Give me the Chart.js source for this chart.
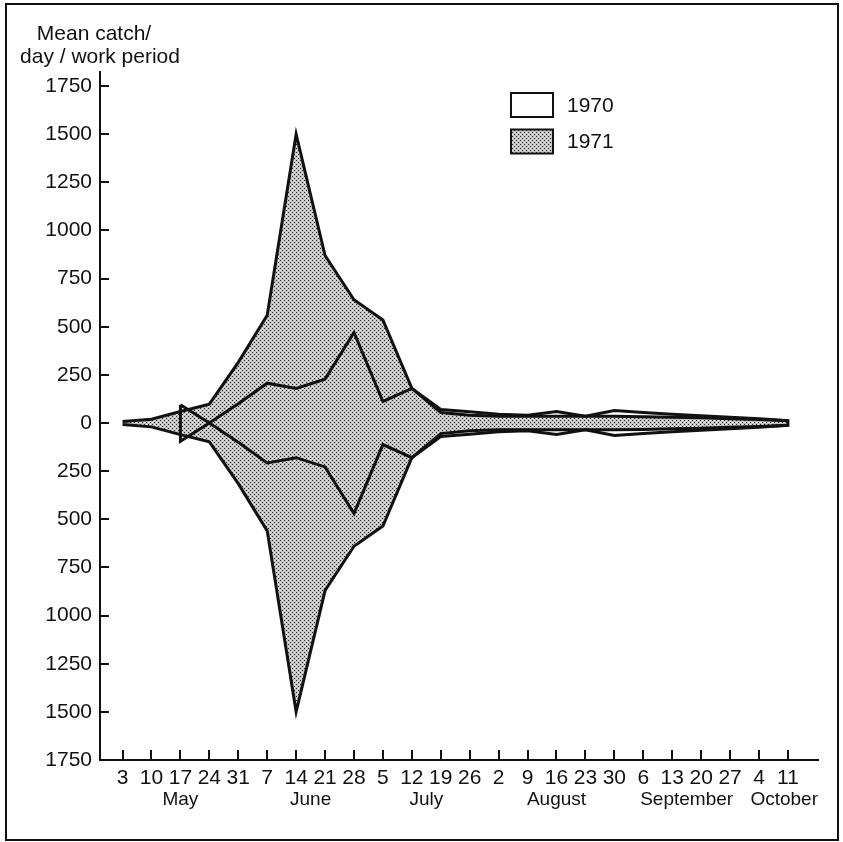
<!DOCTYPE html>
<html>
<head>
<meta charset="utf-8">
<script src="https://cdn.jsdelivr.net/npm/chart.js@4.4.1/dist/chart.umd.min.js"></script>
<style>
  html, body { margin: 0; padding: 0; background: #fff; }
</style>
</head>
<body>
<canvas id="kite" width="843" height="842"></canvas>
<script>
// sampling weeks (day of month) and the month each falls in
var weekLabels = ['3', '10', '17', '24', '31', '7', '14', '21', '28', '5', '12', '19', '26',
                  '2', '9', '16', '23', '30', '6', '13', '20', '27', '4', '11'];
var weekMonths = ['May', 'May', 'May', 'May', 'May', 'June', 'June', 'June', 'June',
                  'July', 'July', 'July', 'July', 'August', 'August', 'August', 'August', 'August',
                  'September', 'September', 'September', 'September', 'October', 'October'];

// mean catch / day / work period, one value per week
var catch1970 = [null, null, 95, 0, 100, 207, 180, 228, 470, 112, 180, 70,
                 58, 45, 40, 60, 35, 65, 55, 45, 38, 30, 22, 12];
var catch1971 = [8, 20, 60, 98, 315, 560, 1500, 870, 640, 535, 180, 55,
                 40, 35, 35, 35, 35, 35, 33, 30, 27, 22, 18, 12];

var yTicks = [-1750, -1500, -1250, -1000, -750, -500, -250, 0, 250, 500, 750, 1000, 1250, 1500, 1750];

var FONT = "'Liberation Sans', Arial, sans-serif";
var INK = '#111';

// fine dot screen used for the 1971 kite
function stipple() {
    var c = document.createElement('canvas');
    c.width = 4; c.height = 4;
    var g = c.getContext('2d');
    g.fillStyle = '#c2c2c2'; g.fillRect(0, 0, 4, 4);
    g.fillStyle = '#2a2a2a'; g.fillRect(0, 0, 1, 1); g.fillRect(2, 2, 1, 1);
    g.fillStyle = '#f0f0f0'; g.fillRect(2, 0, 1, 1); g.fillRect(0, 2, 1, 1);
    return g.createPattern(c, 'repeat');
}
var screen = stipple();

// one edge of a kite: +v above the axis, -v below
function side(values, sign) {
    var pts = [];
    values.forEach(function(v, i) {
        if (v !== null) pts.push({ x: i, y: sign * v });
    });
    return pts;
}

// closed kite outline: top edge left to right, bottom edge back again
function outline(values) {
    var top = side(values, 1), bottom = side(values, -1).reverse();
    return top.concat(bottom, [top[0]]);
}

var decor = {
    id: 'decor',
    beforeDraw: function(chart) {
        var ctx = chart.ctx;
        ctx.save();
        ctx.fillStyle = '#fff';
        ctx.fillRect(0, 0, chart.width, chart.height);
        ctx.restore();
    },
    afterDraw: function(chart) {
        var ctx = chart.ctx, a = chart.chartArea;
        var xs = chart.scales.x, ys = chart.scales.y;
        ctx.save();
        ctx.strokeStyle = INK;
        ctx.lineWidth = 2;

        // outer frame
        ctx.strokeRect(6, 4, 832, 836);

        // tick marks pointing into the plot
        ctx.beginPath();
        ys.ticks.forEach(function(t) {
            var y = Math.round(ys.getPixelForValue(t.value));
            ctx.moveTo(a.left, y); ctx.lineTo(a.left + 9, y);
        });
        xs.ticks.forEach(function(t) {
            var x = Math.round(xs.getPixelForValue(t.value));
            ctx.moveTo(x, a.bottom); ctx.lineTo(x, a.bottom - 10);
        });
        ctx.stroke();

        // axis caption
        ctx.fillStyle = INK;
        ctx.textAlign = 'center';
        ctx.textBaseline = 'middle';
        ctx.font = '21px ' + FONT;
        ctx.fillText('Mean catch/', 94, 34);
        ctx.fillText('day / work period', 100, 57);

        // month names under their weeks; the last one ends at the axis end
        ctx.font = '19px ' + FONT;
        var first = {}, last = {};
        weekMonths.forEach(function(m, i) {
            if (!(m in first)) first[m] = i;
            last[m] = i;
        });
        var months = Object.keys(first);
        months.forEach(function(m, k) {
            var x = xs.getPixelForValue((first[m] + last[m]) / 2);
            if (k === months.length - 1) x = a.right - ctx.measureText(m).width / 2;
            ctx.fillText(m, x, 800);
        });

        // legend
        ctx.textAlign = 'left';
        ctx.font = '21px ' + FONT;
        var items = chart.data.datasets.filter(function(d) { return d.legendFill; });
        items.forEach(function(d, i) {
            var y = 93 + i * 36.5;
            ctx.fillStyle = d.legendFill;
            ctx.fillRect(511, y, 42, 24);
            ctx.strokeRect(511, y, 42, 24);
            ctx.fillStyle = INK;
            ctx.fillText(d.label, 567, y + 13);
        });
        ctx.restore();
    }
};

var tickFont = { family: FONT, size: 21 };

new Chart(document.getElementById('kite'), {
    type: 'line',
    data: {
        datasets: [
            { label: '1970', data: outline(catch1970), borderColor: INK, borderWidth: 3,
              fill: false, legendFill: '#fff' },
            { label: '1971', data: side(catch1971, 1), borderColor: INK, borderWidth: 3,
              backgroundColor: screen, fill: '+1', legendFill: screen },
            { label: '1971 lower', data: side(catch1971, -1), borderColor: INK, borderWidth: 3,
              fill: false }
        ]
    },
    options: {
        responsive: false,
        animation: false,
        devicePixelRatio: 1,
        layout: { padding: { top: 72, right: 25, bottom: 0, left: 0 } },
        elements: {
            point: { radius: 0, hoverRadius: 0 },
            line: { tension: 0, borderJoinStyle: 'miter', borderCapStyle: 'butt' }
        },
        plugins: {
            legend: { display: false },
            tooltip: { enabled: false },
            filler: { drawTime: 'beforeDatasetsDraw' }
        },
        scales: {
            x: {
                type: 'linear',
                min: -0.78,
                max: 24.04,
                grid: { display: false, drawTicks: false },
                border: { display: true, color: INK, width: 2 },
                ticks: {
                    autoSkip: false, maxRotation: 0, padding: 6, color: INK, font: tickFont,
                    callback: function(v) { return weekLabels[v]; }
                },
                afterBuildTicks: function(s) {
                    s.ticks = weekLabels.map(function(_, i) { return { value: i }; });
                },
                afterFit: function(s) { s.height = 82; }
            },
            y: {
                min: -1750,
                max: 1823,
                grid: { display: false, drawTicks: false },
                border: { display: true, color: INK, width: 2 },
                ticks: {
                    padding: 8, color: INK, font: tickFont,
                    callback: function(v) { return String(Math.abs(v)); }
                },
                afterBuildTicks: function(s) {
                    s.ticks = yTicks.map(function(v) { return { value: v }; });
                },
                afterFit: function(s) { s.width = 100; }
            }
        }
    },
    plugins: [decor]
});
</script>
</body>
</html>
